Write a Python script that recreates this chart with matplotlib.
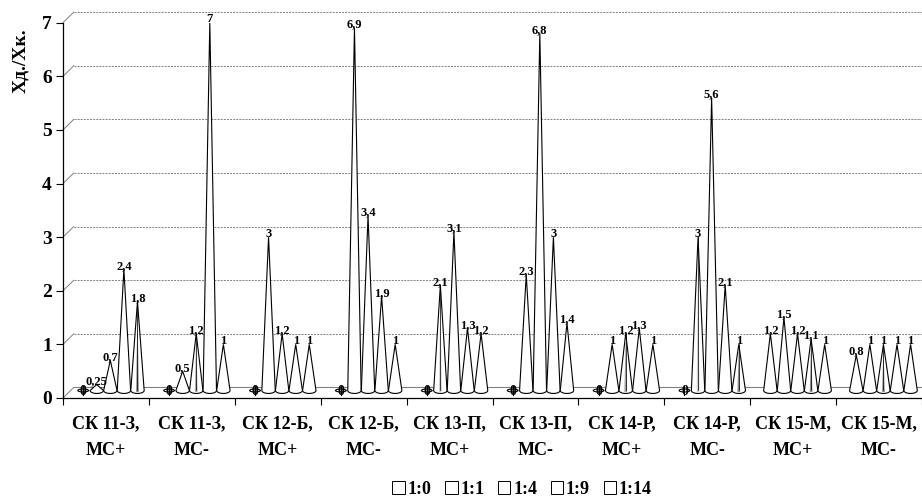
import numpy as np
import matplotlib
matplotlib.use("Agg")
import matplotlib.pyplot as plt
from matplotlib.patches import Patch, Ellipse

plt.rcParams["font.family"] = ["Liberation Serif", "DejaVu Serif"]
plt.rcParams["font.weight"] = "bold"

# categories (two label rows) and the five series
group_top = ["СК 11-З,", "СК 11-З,", "СК 12-Б,", "СК 12-Б,", "СК 13-П,",
             "СК 13-П,", "СК 14-Р,", "СК 14-Р,", "СК 15-М,", "СК 15-М,"]
group_bottom = ["МС+", "МС-", "МС+", "МС-", "МС+", "МС-", "МС+", "МС-", "МС+", "МС-"]
series_names = ["1:0", "1:1", "1:4", "1:9", "1:14"]

ratio_1_0 = [0, 0, 0, 0, 0, 0, 0, 0, 1.2, 0.8]
ratio_1_1 = [0.25, 0.5, 3, 6.9, 2.1, 2.3, 1, 3, 1.5, 1]
ratio_1_4 = [0.7, 1.2, 1.2, 3.4, 3.1, 6.8, 1.2, 5.6, 1.2, 1]
ratio_1_9 = [2.4, 7, 1, 1.9, 1.3, 3, 1.3, 2.1, 1.1, 1]
ratio_1_14 = [1.8, 1, 1, 1, 1.2, 1.4, 1, 1, 1, 1]
series = [ratio_1_0, ratio_1_1, ratio_1_4, ratio_1_9, ratio_1_14]

# cones with the grey stripe inside: (series, group, shade)
shaded = [(4, 0, "#8c8c8c"), (2, 1, "#a8a8a8"), (1, 4, "#cfcfcf"), (2, 6, "#a0a0a0"),
          (1, 7, "#d0d0d0"), (4, 7, "#8c8c8c"), (3, 8, "#909090"), (2, 9, "#909090")]

W, H = 922, 499
fig = plt.figure(figsize=(W / 100, H / 100), dpi=100)
ax = fig.add_axes([63 / W, 1 - 398 / H, 859 / W, (398 - 22.7) / H])
ax.set_xlim(0, 10)
ax.set_ylim(0, 7)

# 3d back wall offset (data units)
dx, dy = 10.7 / 85.9, 10.5 / 53.6
for v in range(0, 8):
    ax.plot([0, dx], [v, v + dy], color="#808080", lw=0.7, clip_on=False, zorder=1)
    if v == 0:
        ax.plot([dx, 10 + dx], [dy, dy], color="#808080", lw=0.8, clip_on=False, zorder=1)
    else:
        ax.plot([dx, 10 + dx], [v + dy, v + dy], color="#808080", lw=0.7,
                ls=(0, (2, 1.2)), clip_on=False, zorder=1)

base = 0.14
hw = 0.078
eh = 0.055
t = np.linspace(np.pi, 2 * np.pi, 30)
shade_map = {(s, g): c for s, g, c in shaded}

for g in range(len(group_top)):
    for s, vals in enumerate(series):
        v = vals[g]
        x = g + 0.235 + s * 0.158
        z = 3 + s
        if v == 0:
            ax.add_patch(Ellipse((x, base), 2 * hw * 0.8, 2 * eh * 0.5, facecolor="white",
                                 edgecolor="black", lw=0.8, zorder=z))
            ax.plot([x, x], [base - 0.08, base + 0.08], color="black", lw=0.8, zorder=z)
            ax.text(x, base - 0.02, "0", ha="center", va="center", fontsize=10, zorder=z + 1)
            continue
        xs = np.concatenate([[x - hw], x + hw * np.cos(t), [x + hw, x]])
        ys = np.concatenate([[base], base + eh * np.sin(t), [base, v]])
        ax.fill(xs, ys, facecolor="white", edgecolor="black", lw=0.8, zorder=z)
        if (s, g) in shade_map:
            ax.fill([x - 0.016, x + 0.016, x], [base - 0.03, base - 0.03, v * 0.97],
                    color=shade_map[(s, g)], lw=0, zorder=z)
            ax.plot([x, x], [base, v], color="black", lw=0.5, zorder=z)
        label = f"{v:g}".replace(".", ",")
        ax.annotate(label, (x, v), xytext=(0, 2.5), textcoords="offset points",
                    ha="center", va="center", fontsize=9, zorder=20)

for side in ["top", "right"]:
    ax.spines[side].set_visible(False)
ax.spines["left"].set_linewidth(0.9)
ax.spines["bottom"].set_linewidth(0.9)

ax.set_yticks(range(0, 8))
ax.set_yticklabels([str(i) for i in range(0, 8)], fontsize=14, fontweight="bold")
ax.tick_params(axis="y", length=5, width=0.8, pad=3)
ax.set_xticks(range(0, 11))
ax.set_xticklabels([])
ax.tick_params(axis="x", which="major", length=5, width=0.8)

# two rows of category labels, baselines placed below the axis
for g in range(len(group_top)):
    ax.annotate(group_top[g], (g + 0.5, 0), xycoords=("data", "axes fraction"),
                xytext=(0, -22), textcoords="offset points", ha="center",
                va="baseline", fontsize=13, fontweight="bold")
    ax.annotate(group_bottom[g], (g + 0.5, 0), xycoords=("data", "axes fraction"),
                xytext=(0, -41), textcoords="offset points", ha="center",
                va="baseline", fontsize=13, fontweight="bold")

fig.text(21 / W, 1 - 61 / H, "Хд./Хк.", rotation=90, ha="center", va="center",
         fontsize=14, fontweight="bold")

handles = [Patch(facecolor="white", edgecolor="black", lw=0.7) for _ in series_names]
fig.legend(handles, series_names, loc="center", bbox_to_anchor=(522 / W, 1 - 489 / H),
           ncol=5, frameon=False, fontsize=13, handlelength=0.7, handleheight=0.7,
           handletextpad=0.15, columnspacing=0.75, borderpad=0)

fig.savefig("out.png", dpi=100)
